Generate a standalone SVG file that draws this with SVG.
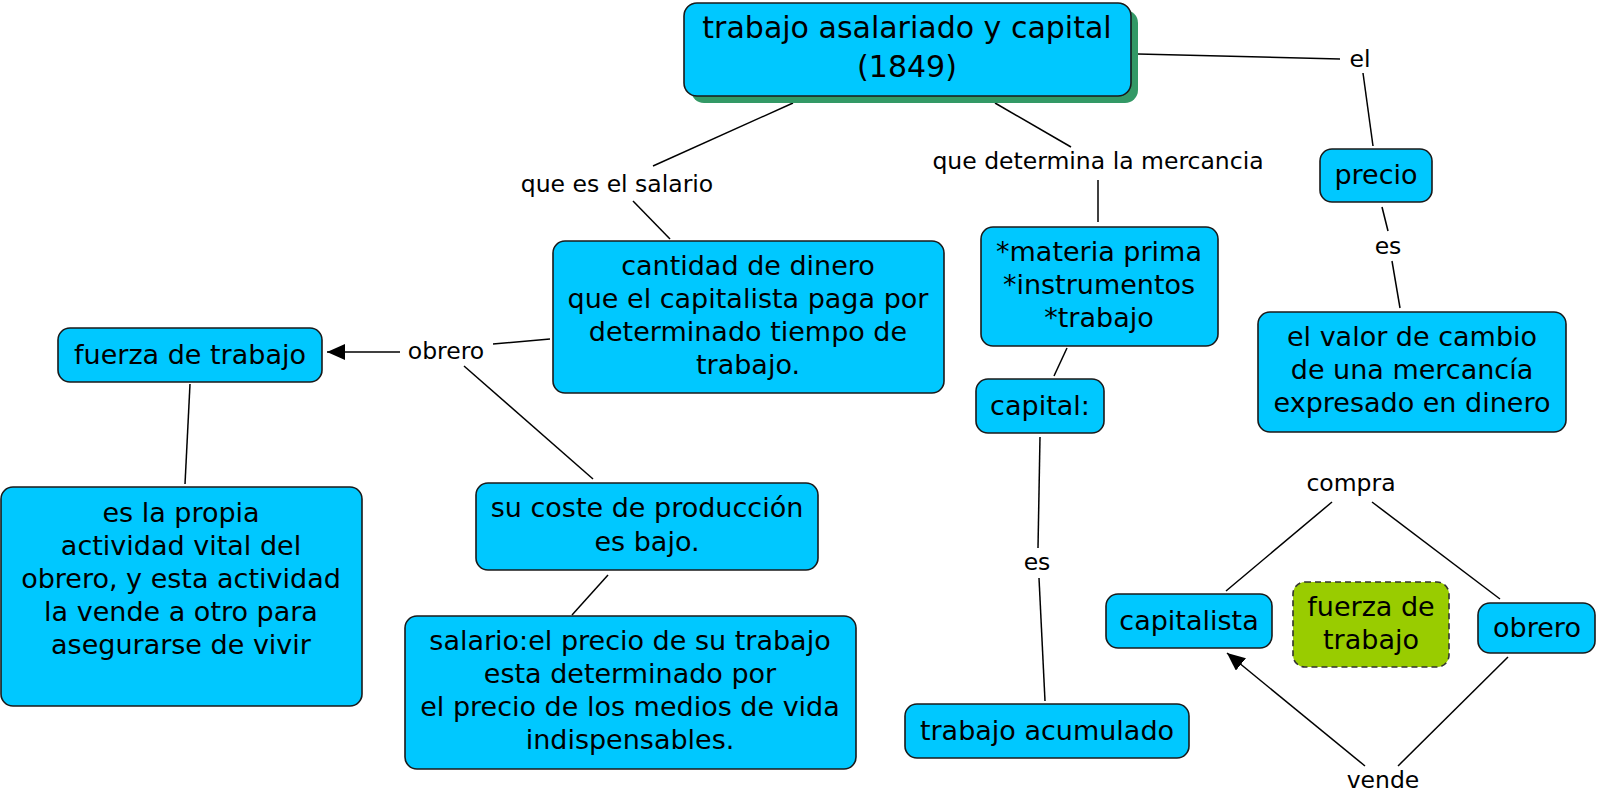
<svg xmlns="http://www.w3.org/2000/svg" width="1600" height="795" viewBox="0 0 1600 795">
<defs>
<style>
.n{fill:#00c8ff;stroke:#1a1a1a;stroke-width:1.6}
.g{fill:#99cc00;stroke:#333;stroke-width:1.6;stroke-dasharray:6 4}
.t{font-family:"DejaVu Sans","Verdana",sans-serif;font-size:27px;fill:#000;text-anchor:middle}
.tt{font-family:"DejaVu Sans","Verdana",sans-serif;font-size:30px;fill:#000;text-anchor:middle}
.l{font-family:"DejaVu Sans","Verdana",sans-serif;font-size:23.5px;fill:#000;text-anchor:middle}
.c{stroke:#000;stroke-width:1.5;fill:none}
</style>
<marker id="ah" markerWidth="18" markerHeight="16" refX="18" refY="8" orient="auto" markerUnits="userSpaceOnUse">
<path d="M0,0 L18,8 L0,16 Z" fill="#000"/>
</marker>
</defs>
<rect width="1600" height="795" fill="#fff"/>
<g id="connectors">
<line class="c" x1="793" y1="103" x2="653" y2="166"/>
<line class="c" x1="633" y1="201" x2="670" y2="239"/>
<line class="c" x1="995" y1="103" x2="1071" y2="147"/>
<line class="c" x1="1098" y1="180" x2="1098" y2="222"/>
<line class="c" x1="1138" y1="54" x2="1340" y2="59"/>
<line class="c" x1="1363" y1="73" x2="1373" y2="146"/>
<line class="c" x1="1382" y1="207" x2="1388" y2="231"/>
<line class="c" x1="1392" y1="261" x2="1400" y2="308"/>
<line class="c" x1="1067" y1="348" x2="1054" y2="376"/>
<line class="c" x1="1040" y1="437" x2="1038" y2="548"/>
<line class="c" x1="1039" y1="578" x2="1045" y2="701"/>
<line class="c" x1="400" y1="352" x2="327" y2="352" marker-end="url(#ah)"/>
<line class="c" x1="493" y1="344" x2="550" y2="339"/>
<line class="c" x1="464" y1="366" x2="593" y2="479"/>
<line class="c" x1="190" y1="384" x2="185" y2="484"/>
<line class="c" x1="608" y1="575" x2="572" y2="615"/>
<line class="c" x1="1332" y1="502" x2="1226" y2="591"/>
<line class="c" x1="1372" y1="502" x2="1500" y2="599"/>
<line class="c" x1="1508" y1="657" x2="1398" y2="766"/>
<line class="c" x1="1365" y1="766" x2="1227" y2="653" marker-end="url(#ah)"/>
<text class="l" x="617" y="192">que es el salario</text>
<text class="l" x="1098" y="169">que determina la mercancia</text>
<text class="l" x="1360" y="67">el</text>
<text class="l" x="1388" y="254">es</text>
<text class="l" x="1037" y="570">es</text>
<text class="l" x="446" y="359">obrero</text>
<text class="l" x="1351" y="491">compra</text>
<text class="l" x="1383" y="788">vende</text>
</g>
<g id="title">
<rect x="691" y="10" width="447" height="93" rx="13" fill="#339966"/>
<rect class="n" x="684" y="3" width="447" height="93" rx="13"/>
<text class="tt" x="907" y="38">trabajo asalariado y capital</text>
<text class="tt" x="907" y="77">(1849)</text>
</g>
<g id="cantidad">
<rect class="n" x="553" y="241" width="391" height="152" rx="12"/>
<text class="t" x="748" y="275">cantidad de dinero</text>
<text class="t" x="748" y="308">que el capitalista paga por</text>
<text class="t" x="748" y="341">determinado tiempo de</text>
<text class="t" x="748" y="374">trabajo.</text>
</g>
<g id="materia">
<rect class="n" x="981" y="227" width="237" height="119" rx="12"/>
<text class="t" x="1099" y="261">*materia prima</text>
<text class="t" x="1099" y="294">*instrumentos</text>
<text class="t" x="1099" y="327">*trabajo</text>
</g>
<g id="precio">
<rect class="n" x="1320" y="149" width="112" height="53" rx="12"/>
<text class="t" x="1376" y="184">precio</text>
</g>
<g id="valor">
<rect class="n" x="1258" y="312" width="308" height="120" rx="12"/>
<text class="t" x="1412" y="346">el valor de cambio</text>
<text class="t" x="1412" y="379">de una mercancía</text>
<text class="t" x="1412" y="412">expresado en dinero</text>
</g>
<g id="capital">
<rect class="n" x="976" y="379" width="128" height="54" rx="12"/>
<text class="t" x="1040" y="415">capital:</text>
</g>
<g id="acumulado">
<rect class="n" x="905" y="704" width="284" height="54" rx="12"/>
<text class="t" x="1047" y="740">trabajo acumulado</text>
</g>
<g id="fuerza">
<rect class="n" x="58" y="328" width="264" height="54" rx="12"/>
<text class="t" x="190" y="364">fuerza de trabajo</text>
</g>
<g id="propia">
<rect class="n" x="1" y="487" width="361" height="219" rx="12"/>
<text class="t" x="181" y="522">es la propia</text>
<text class="t" x="181" y="555">actividad vital del</text>
<text class="t" x="181" y="588">obrero, y esta actividad</text>
<text class="t" x="181" y="621">la vende a otro para</text>
<text class="t" x="181" y="654">asegurarse de vivir</text>
</g>
<g id="coste">
<rect class="n" x="476" y="483" width="342" height="87" rx="12"/>
<text class="t" x="647" y="517">su coste de producción</text>
<text class="t" x="647" y="551">es bajo.</text>
</g>
<g id="salario">
<rect class="n" x="405" y="616" width="451" height="153" rx="12"/>
<text class="t" x="630" y="650">salario:el precio de su trabajo</text>
<text class="t" x="630" y="683">esta determinado por</text>
<text class="t" x="630" y="716">el precio de los medios de vida</text>
<text class="t" x="630" y="749">indispensables.</text>
</g>
<g id="capitalista">
<rect class="n" x="1106" y="594" width="166" height="54" rx="12"/>
<text class="t" x="1189" y="630">capitalista</text>
</g>
<g id="fuerza2">
<rect class="g" x="1293" y="582" width="156" height="85" rx="12"/>
<text class="t" x="1371" y="616">fuerza de</text>
<text class="t" x="1371" y="649">trabajo</text>
</g>
<g id="obrero">
<rect class="n" x="1478" y="603" width="117" height="50" rx="12"/>
<text class="t" x="1537" y="637">obrero</text>
</g>
</svg>
